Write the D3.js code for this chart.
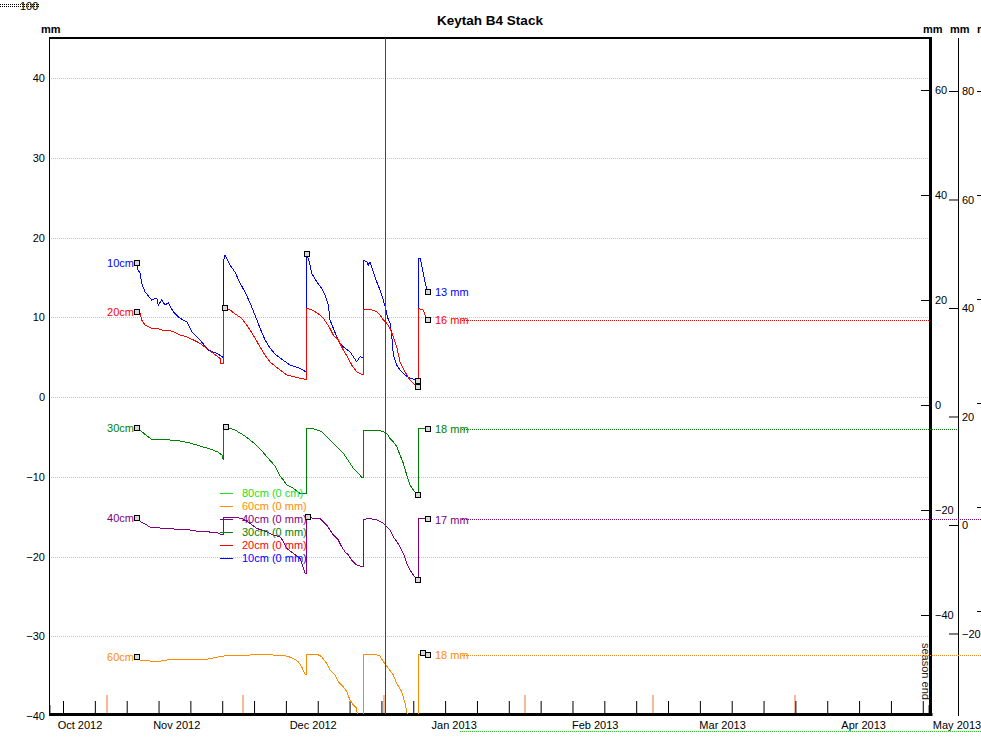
<!DOCTYPE html>
<html><head><meta charset="utf-8">
<script src="https://cdn.jsdelivr.net/npm/d3@7"></script>
<style>
html,body{margin:0;padding:0;background:#fff;overflow:hidden}
svg{display:block;font-family:"Liberation Sans",Arial,sans-serif}
</style></head><body>
<svg id="chart" width="981" height="754"></svg>
<script>
// ---------------- DATA ----------------
const chartTitle = "Keytah B4 Stack";
const seriesNames = ["10cm","20cm","30cm","40cm","60cm"];
const endLabels = ["13 mm","16 mm","18 mm","17 mm","18 mm"];
const legendLabels = ["80cm (0 cm)","60cm (0 mm)","40cm (0 mm)","30cm (0 mm)","20cm (0 mm)","10cm (0 mm)"];
// x = days since 1 Oct 2012, y = value (mm, stacked on left axis)
const s10 = [[22.27,16.84],[22.5,15.9],[22.93,15.55],[23.3,14.26],[24.03,13.2],[25.5,12.16],[26.6,12.41],[26.95,11.54],[27.7,12.16],[28.42,11.54],[29.15,11.79],[30.25,10.7],[31.72,9.87],[33.19,9.44],[34.29,8.19],[36.12,7.15],[37.94,5.89],[39.79,5.48],[41.02,5.05],[41.24,4.85],[41.26,16.9],[41.61,17.81],[42.71,16.55],[43.81,15.67],[44.91,14.29],[46.01,13.17],[47.11,11.79],[48.21,10.28],[49.31,8.65],[50.41,7.15],[51.5,6.14],[52.6,5.39],[53.7,4.89],[55.9,4.01],[58.1,3.6],[59.35,3.17],[59.53,3.17],[59.55,17.5],[59.64,17.93],[60.3,16.55],[60.67,15.51],[61.77,14.46],[62.87,13.63],[63.6,12.79],[64.32,11.54],[64.69,9.66],[65.42,8.61],[66.17,7.56],[66.89,6.73],[67.99,6.11],[69.09,5.68],[69.82,5.05],[70.56,4.43],[71.29,5.05],[71.88,4.98],[72.01,4.98],[72.02,17.18],[72.76,16.97],[73.11,16.55],[73.49,16.97],[73.86,16.34],[74.59,15.08],[74.96,14.46],[75.69,13.42],[76.41,12.16],[77.01,10.91],[77.29,10.07],[77.88,9.24],[78.26,7.77],[78.61,5.27],[79.36,4.01],[80.08,3.39],[81.18,2.76],[82.28,2.34],[83.76,2.13],[84.11,2.04],[84.12,17.39],[84.48,17.39],[84.85,16.55],[85.2,15.51],[85.58,14.46],[86.17,13.13]];
const s20 = [[22.27,10.7],[22.93,10.5],[23.3,9.66],[24.03,9.03],[25.5,8.61],[26.6,8.61],[27.7,8.4],[29.15,8.4],[30.25,8.19],[31.72,7.77],[33.19,7.56],[34.66,7.15],[36.12,6.73],[37.59,6.11],[39.05,5.48],[40.51,4.85],[40.66,4.23],[41.24,4.23],[41.26,11.12],[41.61,11.12],[42.71,10.91],[44.18,10.28],[45.28,9.87],[46.38,9.03],[47.11,8.4],[48.21,7.4],[49.31,6.27],[50.41,5.27],[51.5,4.39],[52.6,3.89],[53.7,3.39],[55.18,2.76],[56.63,2.55],[58.1,2.34],[59.35,2.22],[59.53,2.22],[59.55,11.12],[60.67,10.91],[61.4,10.7],[62.5,10.28],[63.22,9.87],[63.97,9.24],[64.69,8.61],[65.42,7.77],[66.52,7.15],[67.62,5.89],[68.72,4.85],[69.47,4.01],[70.56,3.17],[71.88,2.76],[72.01,2.76],[72.02,10.91],[73.86,10.91],[74.96,10.7],[75.69,10.28],[76.41,9.66],[77.16,9.24],[77.88,8.61],[78.61,7.56],[79.36,6.31],[80.08,4.43],[81.18,3.17],[82.28,2.13],[83.01,1.72],[83.98,1.29],[84.11,1.29],[84.12,11.12],[85.2,10.91],[85.58,10.28],[86.17,9.66]];
const s30 = [[22.27,-3.92],[23.3,-4.35],[24.5,-4.9],[25.5,-5.3],[27.32,-5.39],[29.52,-5.39],[31.72,-5.52],[33.92,-5.77],[36.12,-6.14],[38.31,-6.52],[40.07,-6.9],[40.95,-7.27],[41.24,-7.9],[41.26,-3.76],[41.83,-3.76],[43.81,-4.14],[46.01,-4.89],[48.21,-5.89],[49.75,-6.77],[51.06,-7.65],[52.6,-8.65],[53.7,-9.91],[54.43,-10.41],[55.18,-11.03],[56.63,-11.45],[58.1,-12.08],[59.35,-12.08],[59.53,-12.08],[59.55,-3.92],[60.67,-3.92],[61.77,-4.14],[62.87,-4.35],[63.6,-4.76],[64.69,-5.39],[65.8,-6.02],[66.89,-6.65],[67.62,-7.06],[68.37,-7.69],[69.09,-8.31],[69.82,-8.94],[70.92,-9.57],[71.66,-10.07],[72.01,-10.07],[72.02,-4.14],[73.49,-4.14],[74.96,-4.14],[76.41,-4.35],[77.16,-4.55],[77.88,-5.18],[78.61,-5.6],[79.36,-6.23],[80.08,-7.27],[80.81,-8.31],[81.56,-9.78],[82.28,-11.03],[83.01,-11.66],[83.98,-12.29],[84.11,-12.29],[84.12,-3.92],[86.17,-4.01]];
const s40 = [[22.27,-15.21],[23.1,-15.67],[24.03,-15.92],[25.1,-16.3],[27.32,-16.43],[30.62,-16.56],[33.92,-16.68],[36.12,-16.89],[38.31,-16.93],[40.07,-17.05],[40.95,-17.3],[41.24,-17.3],[41.26,-15.05],[41.83,-15.05],[43.81,-15.1],[45.28,-15.21],[47.11,-15.84],[48.57,-16.47],[50.76,-16.89],[52.23,-17.3],[53.7,-17.52],[54.43,-18.1],[55.18,-18.97],[56.63,-19.6],[58.1,-20.23],[58.84,-21.48],[59.2,-22.11],[59.35,-22.11],[59.53,-22.11],[59.55,-15.01],[59.86,-15.01],[61.03,-15.21],[62.5,-15.21],[63.22,-15.64],[63.97,-16.05],[64.69,-16.68],[65.42,-17.3],[66.52,-17.93],[67.25,-18.77],[67.99,-19.4],[68.72,-19.81],[69.47,-20.44],[70.56,-21.07],[71.88,-21.28],[72.01,-21.28],[72.02,-15.42],[73.11,-15.21],[74.96,-15.42],[76.41,-15.84],[77.16,-16.26],[77.88,-16.68],[78.61,-17.52],[79.36,-18.14],[80.08,-18.77],[80.81,-19.6],[81.56,-20.85],[82.28,-21.69],[83.01,-22.32],[83.98,-22.95],[84.11,-22.95],[84.12,-15.21],[84.33,-15.21],[86.17,-15.34]];
const s60 = [[22.27,-32.56],[22.93,-32.98],[26.6,-33.19],[28.8,-32.98],[30.99,-32.89],[37.59,-32.89],[41.24,-32.48],[47.11,-32.35],[49.31,-32.23],[55.18,-32.48],[56.63,-32.77],[57.73,-33.19],[58.47,-33.82],[59.2,-34.77],[59.35,-34.77],[59.53,-34.77],[59.55,-32.23],[61.77,-32.23],[62.87,-32.56],[63.97,-33.39],[64.69,-34.23],[65.8,-34.86],[66.52,-35.7],[67.62,-36.33],[68.37,-36.95],[69.09,-37.99],[69.82,-38.62],[70.56,-39.04],[70.7,-39.87],[71.2,-42.5],[72.0,-43],[72.01,-43],[72.02,-32.35],[74.21,-32.23],[75.69,-32.48],[76.41,-33.19],[77.51,-34.02],[78.61,-34.86],[79.36,-35.9],[80.46,-36.95],[81.18,-38.41],[81.56,-39.46],[82.2,-41.5],[84.0,-43],[84.11,-43],[84.12,-32.35],[85.07,-32.14],[86.17,-32.31]];
const ref80 = -41.9;
// marker squares (days)
const markers10 = [22.27,59.64,84.11,86.17];
const markers20 = [22.27,41.61,83.98,86.17];
const markers30 = [22.27,41.83,83.98,86.17];
const markers40 = [22.27,59.86,83.98,86.17];
const markers60 = [22.27,85.07,86.17];
// event bars, today, season
const eventDays = [15.67,45.57,76.56,107.56,135.7,166.91];
const todayDay = 76.78;
const seasonDays = [3.14,196.4];
const seasonEndLabel = "season end";
// axes
const xDomainDays = [2.922,196.70];
const monthLabels = ["Oct 2012","Nov 2012","Dec 2012","Jan 2013","Feb 2013","Mar 2013","Apr 2013","May 2013"];
const leftDomain = [-40,45.016];
const leftTicks = [-40,-30,-20,-10,0,10,20,30,40];
const right1Domain = [-59.238,69.905];
const right1Ticks = [-40,-20,0,20,40,60];
const right2Domain = [-35.21,89.77];
const right2Ticks = [-20,0,20,40,60,80];
const right3Domain = [-60.19,70.19];
const right3Ticks = [-40,-20,0,20,40,60];

// ---------------- STYLE / LAYOUT ----------------
const colors = ["#0000ff","#ff0000","#008000","#800080","#ff8c00"];
const legendColors = ["#22dd22","#ff8c00","#800080","#008000","#ff0000","#0000ff"];
const refLineEnd = [null,930,957,981,981];
const L=49,R=930.5,T=38,B=716;
const FONT = '"Liberation Sans",Arial,sans-serif';

const svg = d3.select("#chart");
const origin = Date.UTC(2012,9,1);
const toDate = d => new Date(origin + d*864e5);
const x = d3.scaleUtc().domain(xDomainDays.map(toDate)).range([L,R]);
const y = d3.scaleLinear().domain(leftDomain).range([B,T]);
const yR1 = d3.scaleLinear().domain(right1Domain).range([B,T]);
const yR2 = d3.scaleLinear().domain(right2Domain).range([B,T]);
const yR3 = d3.scaleLinear().domain(right3Domain).range([B,T]);
const crisp = v => Math.round(v)+0.5;

// top-left remnant
svg.append("line").attr("x1",0).attr("x2",40).attr("y1",4.5).attr("y2",4.5)
  .attr("stroke","#000").attr("stroke-dasharray","1,1");
svg.append("line").attr("x1",0).attr("x2",40).attr("y1",6.5).attr("y2",6.5)
  .attr("stroke","#000").attr("stroke-dasharray","1,1");
svg.append("text").attr("x",20).attr("y",10).attr("font-size",11).attr("font-family",FONT).text("100");

// title
svg.append("text").attr("x",490).attr("y",25).attr("text-anchor","middle")
  .attr("font-size",13.5).attr("font-weight","bold").attr("font-family",FONT).text(chartTitle);

// unit labels
[[41,"mm"],[923,"mm"],[950,"mm"],[977,"mm"]].forEach(([px,t])=>{
  svg.append("text").attr("x",px).attr("y",33).attr("font-size",11).attr("font-weight","bold")
    .attr("font-family",FONT).text(t);
});

// grid
svg.append("g").selectAll("line").data(leftTicks.filter(t=>t>leftDomain[0])).join("line")
  .attr("x1",L).attr("x2",R).attr("y1",d=>crisp(y(d))).attr("y2",d=>crisp(y(d)))
  .attr("stroke","#86dede").attr("stroke-dasharray","1,1");

// event bars
svg.append("g").selectAll("rect").data(eventDays).join("rect")
  .attr("x",d=>Math.round(x(toDate(d)))-1).attr("y",695).attr("width",2).attr("height",B-695)
  .attr("fill","#ffb896");
// season bars
svg.append("g").selectAll("rect").data(seasonDays).join("rect")
  .attr("x",d=>Math.round(x(toDate(d)))-1).attr("y",705).attr("width",2).attr("height",B-705)
  .attr("fill","#999");

// bottom weekly ticks
const gx = svg.append("g").attr("transform",`translate(0,${B-2})`)
  .call(d3.axisBottom(x).ticks(d3.utcSunday.every(1)).tickSize(-13).tickFormat(""));
gx.select(".domain").remove();
gx.selectAll("line").attr("stroke","#000");

// month labels
const monthDates = monthLabels.map((_,i)=>d3.utcMonth.offset(toDate(0),i));
svg.append("g").selectAll("text").data(monthLabels).join("text")
  .attr("x",(d,i)=>Math.max(80,Math.min(957,x(monthDates[i]))))
  .attr("y",729).attr("text-anchor","middle").attr("font-size",11).attr("font-family",FONT)
  .text(d=>d);

// left axis labels
const gl = svg.append("g").attr("transform",`translate(${L},0)`)
  .call(d3.axisLeft(y).tickValues(leftTicks).tickSize(0).tickPadding(4));
gl.select(".domain").remove();
gl.attr("font-size",11).attr("font-family",FONT);
gl.selectAll("text").attr("fill","#000");

// right axes
function rightAxis(scale,ticks,xp,pad,len,showLabels){
  const ax = d3.axisRight(scale).tickValues(ticks).tickSize(-len).tickPadding(pad);
  if(!showLabels) ax.tickFormat("");
  const g = svg.append("g").attr("transform",`translate(${xp},0)`).call(ax);
  g.select(".domain").remove();
  g.attr("font-size",11).attr("font-family",FONT);
  g.selectAll("line").attr("stroke","#000");
  g.selectAll("text").attr("fill","#000");
}
rightAxis(yR1,right1Ticks,930,5,9,true);
rightAxis(yR2,right2Ticks,958,4,9,true);
rightAxis(yR3,right3Ticks,986,4,9,false);

// frame
svg.append("rect").attr("x",L).attr("y",T-1).attr("width",R-L+1).attr("height",2).attr("fill","#000");
svg.append("line").attr("x1",L+0.5).attr("x2",L+0.5).attr("y1",T).attr("y2",B).attr("stroke","#000");
svg.append("rect").attr("x",L).attr("y",B-3).attr("width",R-L+2).attr("height",3).attr("fill","#000");
svg.append("rect").attr("x",929).attr("y",T-1).attr("width",3).attr("height",B-T+1).attr("fill","#000");
svg.append("line").attr("x1",958.5).attr("x2",958.5).attr("y1",T).attr("y2",B).attr("stroke","#000");

// season end text
svg.append("text").attr("transform","translate(922,643) rotate(90)").attr("font-size",11)
  .attr("font-family",FONT).attr("fill","#222").text(seasonEndLabel);

// clip
svg.append("clipPath").attr("id","plotclip").append("rect")
  .attr("x",L).attr("y",T).attr("width",R-L).attr("height",B-T-2);

const allSeries = [s10,s20,s30,s40,s60];
const allMarkers = [markers10,markers20,markers30,markers40,markers60];
const line = d3.line().x(d=>x(toDate(d[0]))).y(d=>y(d[1]));

// reference dotted lines
allSeries.forEach((s,i)=>{
  if(refLineEnd[i]==null) return;
  const last = s[s.length-1];
  svg.append("line").attr("x1",462).attr("x2",refLineEnd[i])
    .attr("y1",crisp(y(last[1]))).attr("y2",crisp(y(last[1])))
    .attr("stroke",colors[i]).attr("stroke-dasharray","1,1");
});
svg.append("line").attr("x1",460).attr("x2",981).attr("y1",crisp(y(ref80))).attr("y2",crisp(y(ref80)))
  .attr("stroke",legendColors[0]).attr("stroke-dasharray","1,1");

// series lines
const gs = svg.append("g").attr("clip-path","url(#plotclip)");
allSeries.forEach((s,i)=>{
  gs.append("path").datum(s).attr("d",line).attr("fill","none")
    .attr("stroke",colors[i]).attr("stroke-width",1).attr("shape-rendering","crispEdges");
});

// today line
svg.append("line").attr("x1",crisp(x(toDate(todayDay)))).attr("x2",crisp(x(toDate(todayDay))))
  .attr("y1",T).attr("y2",B-2).attr("stroke","#ee0000");

// markers
allSeries.forEach((s,i)=>{
  const pts = allMarkers[i].map(md=>d3.least(s,p=>Math.abs(p[0]-md)));
  svg.append("g").selectAll("rect").data(pts).join("rect")
    .attr("x",d=>Math.round(x(toDate(d[0])))-2.5).attr("y",d=>Math.round(y(d[1]))-2.5)
    .attr("width",5).attr("height",5).attr("fill","#d8d8d8").attr("stroke","#000").attr("stroke-width",1);
});

// series labels
allSeries.forEach((s,i)=>{
  const first = s[0], last = s[s.length-1];
  svg.append("text").attr("x",x(toDate(first[0]))-3).attr("y",y(first[1])).attr("dy","0.38em")
    .attr("text-anchor","end").attr("font-size",11).attr("font-family",FONT).attr("fill",colors[i])
    .text(seriesNames[i]);
  svg.append("text").attr("x",435).attr("y",y(last[1])).attr("dy","0.38em")
    .attr("font-size",11).attr("font-family",FONT).attr("fill",colors[i]).text(endLabels[i]);
});

// legend
const lg = svg.append("g");
legendLabels.forEach((t,i)=>{
  const yy = 492.5 + i*13;
  lg.append("line").attr("x1",220).attr("x2",233).attr("y1",Math.round(yy)+0.5).attr("y2",Math.round(yy)+0.5)
    .attr("stroke",legendColors[i]);
  lg.append("text").attr("x",242).attr("y",yy).attr("dy","0.38em").attr("font-size",11)
    .attr("font-family",FONT).attr("fill",legendColors[i]).text(t);
});
</script>
</body></html>
